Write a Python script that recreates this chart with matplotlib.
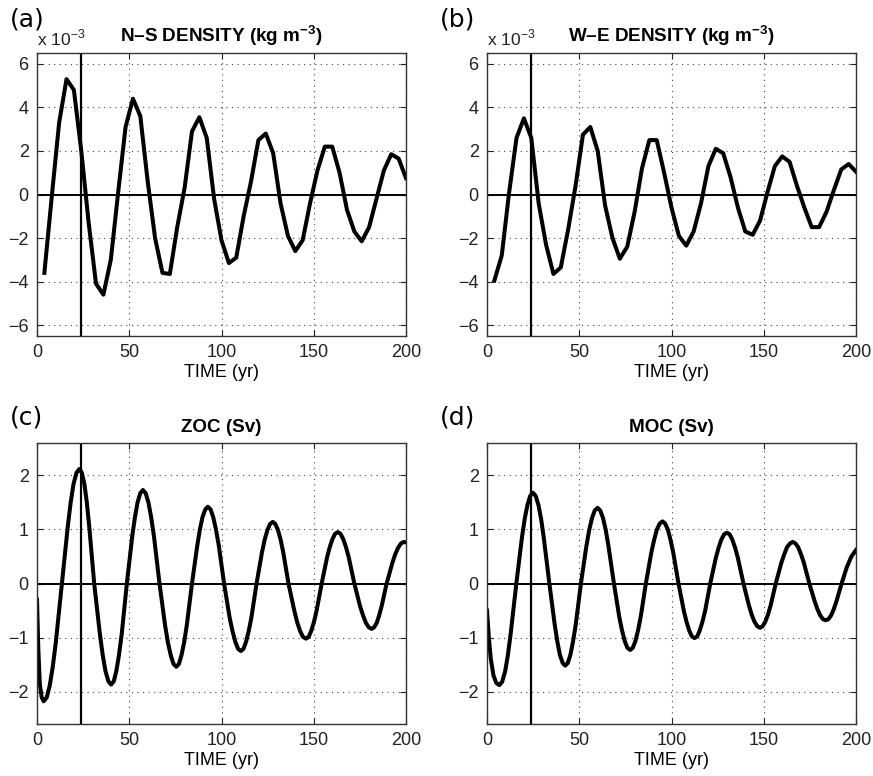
import numpy as np
import matplotlib
matplotlib.use("Agg")
import matplotlib.pyplot as plt

plt.rcParams["font.family"] = ["Liberation Sans", "DejaVu Sans"]
plt.rcParams["mathtext.fontset"] = "custom"
plt.rcParams["mathtext.rm"] = "Liberation Sans"
plt.rcParams["mathtext.bf"] = "Liberation Sans:bold"
plt.rcParams["axes.unicode_minus"] = True

# --- data (density every 4 yr, in units of 1e-3) ---
t_density = list(range(4, 201, 4))
ns_density = [-3.6, -0.1, 3.3, 5.3, 4.8, 2.0, -1.3, -4.1, -4.6, -3.0,
              0.1, 3.1, 4.4, 3.6, 0.6, -2.0, -3.6, -3.65, -1.5, 0.3,
              2.9, 3.55, 2.6, -0.2, -2.1, -3.15, -2.9, -1.0, 0.6, 2.5,
              2.8, 1.9, -0.4, -1.9, -2.6, -2.1, -0.4, 1.1, 2.2, 2.2,
              1.0, -0.7, -1.7, -2.15, -1.5, -0.2, 1.1, 1.85, 1.65, 0.75]
we_density = [-3.95, -2.8, 0.1, 2.6, 3.5, 2.6, -0.4, -2.3, -3.65, -3.35,
              -1.6, 0.4, 2.75, 3.1, 2.0, -0.5, -2.0, -2.95, -2.4, -0.8,
              1.2, 2.5, 2.5, 1.0, -0.6, -1.9, -2.35, -1.7, -0.4, 1.3,
              2.1, 1.9, 0.8, -0.6, -1.7, -1.85, -1.2, 0.1, 1.3, 1.75,
              1.5, 0.4, -0.6, -1.5, -1.5, -0.8, 0.2, 1.15, 1.4, 1.05]

# --- ZOC (Sv) ---
t_zoc = [0, 0.7, 1.5, 2.5, 3.6,
         5.25, 6.9, 8.55, 10.2, 13.5,
         16.7, 18.25, 19.8, 21.4, 23,
         24.3, 25.7, 27.0, 28.3, 31,
         34.1, 35.6, 37.1, 38.7, 40.2,
         41.6, 43.0, 44.45, 45.9, 48.7,
         51.6, 53.05, 54.5, 55.95, 57.4,
         58.9, 60.4, 61.9, 63.4, 66.4,
         69.4, 70.95, 72.5, 74.0, 75.5,
         76.9, 78.3, 79.75, 81.2, 84,
         86.9, 88.3, 89.7, 91.2, 92.6,
         94.1, 95.5, 97.0, 98.5, 101.4,
         104.4, 105.95, 107.5, 109.0, 110.5,
         111.9, 113.3, 114.75, 116.2, 119,
         121.9, 123.4, 124.9, 126.3, 127.8,
         129.2, 130.6, 132.05, 133.5, 136.3,
         139.5, 141.05, 142.6, 144.2, 145.8,
         147.2, 148.6, 150.05, 151.5, 154.3,
         157.2, 158.65, 160.1, 161.55, 163,
         164.5, 166, 167.5, 169, 172,
         175.1, 176.7, 178.3, 179.8, 181.4,
         182.75, 184.1, 185.45, 186.8, 189.5,
         192.6, 194.15, 195.7, 197.25, 198.8, 200]
zoc = [-0.3, -1.2, -1.85, -2.1, -2.18,
       -2.11, -1.89, -1.54, -1.09, 0,
       1.06, 1.50, 1.84, 2.05, 2.12,
       2.05, 1.84, 1.50, 1.06, 0,
       -0.94, -1.32, -1.62, -1.81, -1.87,
       -1.81, -1.62, -1.32, -0.94, 0,
       0.87, 1.22, 1.50, 1.67, 1.73,
       1.67, 1.50, 1.22, 0.87, 0,
       -0.77, -1.09, -1.33, -1.49, -1.54,
       -1.49, -1.33, -1.09, -0.77, 0,
       0.71, 1.0, 1.23, 1.37, 1.42,
       1.37, 1.23, 1.0, 0.71, 0,
       -0.63, -0.88, -1.08, -1.21, -1.25,
       -1.21, -1.08, -0.88, -0.63, 0,
       0.57, 0.81, 0.99, 1.10, 1.14,
       1.10, 0.99, 0.81, 0.57, 0,
       -0.51, -0.72, -0.88, -0.99, -1.02,
       -0.99, -0.88, -0.72, -0.51, 0,
       0.48, 0.67, 0.82, 0.92, 0.95,
       0.92, 0.82, 0.67, 0.48, 0,
       -0.42, -0.59, -0.73, -0.81, -0.84,
       -0.81, -0.73, -0.59, -0.42, 0,
       0.38, 0.54, 0.66, 0.74, 0.77, 0.76]

# --- MOC (Sv) ---
t_moc = [0, 1, 2, 3.5, 5, 6.7,
         8.2, 9.8, 11.3, 12.8, 15.9,
         18.9, 20.4, 21.9, 23.4, 24.9,
         26.4, 27.9, 29.35, 30.8, 33.8,
         36.7, 38.1, 39.5, 41.0, 42.4,
         43.8, 45.2, 46.65, 48.1, 50.9,
         53.9, 55.4, 56.9, 58.4, 59.9,
         61.4, 62.9, 64.35, 65.8, 68.8,
         71.7, 73.2, 74.7, 76.1, 77.6,
         79.0, 80.4, 81.85, 83.3, 86.1,
         89.1, 90.6, 92.1, 93.6, 95.1,
         96.55, 98.0, 99.45, 100.9, 103.8,
         106.7, 108.15, 109.6, 111.05, 112.5,
         113.9, 115.3, 116.75, 118.2, 121,
         124, 125.5, 127, 128.5, 130,
         131.5, 133, 134.5, 136, 139,
         142, 143.5, 145, 146.5, 148,
         149.4, 150.8, 152.25, 153.7, 156.5,
         159.6, 161.1, 162.6, 164.2, 165.7,
         167.2, 168.7, 170.2, 171.7, 174.7,
         177.7, 179.15, 180.6, 182.1, 183.6,
         185.05, 186.5, 187.9, 189.3, 192.2,
         195, 197.5, 200]
moc = [-0.5, -1.0, -1.38, -1.7, -1.84, -1.88,
       -1.82, -1.63, -1.33, -0.94, 0,
       0.84, 1.19, 1.45, 1.62, 1.68,
       1.62, 1.45, 1.19, 0.84, 0,
       -0.76, -1.07, -1.32, -1.47, -1.52,
       -1.47, -1.32, -1.07, -0.76, 0,
       0.70, 0.99, 1.21, 1.35, 1.40,
       1.35, 1.21, 0.99, 0.70, 0,
       -0.62, -0.87, -1.07, -1.19, -1.23,
       -1.19, -1.07, -0.87, -0.62, 0,
       0.58, 0.81, 1.0, 1.11, 1.15,
       1.11, 1.0, 0.81, 0.58, 0,
       -0.51, -0.71, -0.87, -0.98, -1.01,
       -0.98, -0.87, -0.71, -0.51, 0,
       0.47, 0.66, 0.81, 0.91, 0.94,
       0.91, 0.81, 0.66, 0.47, 0,
       -0.41, -0.58, -0.71, -0.79, -0.82,
       -0.79, -0.71, -0.58, -0.41, 0,
       0.39, 0.54, 0.67, 0.74, 0.77,
       0.74, 0.67, 0.54, 0.39, 0,
       -0.34, -0.48, -0.59, -0.66, -0.68,
       -0.66, -0.59, -0.48, -0.34, 0,
       0.3, 0.5, 0.62]

marker_year = 24

W, H = 873, 776
fig = plt.figure(figsize=(W / 100, H / 100), dpi=100)


def px_axes(left, top, right, bottom):
    return fig.add_axes([left / W, 1 - bottom / H, (right - left) / W, (bottom - top) / H])


def style_panel(ax, ylim, yticks, title):
    ax.set_xlim(0, 200)
    ax.set_ylim(*ylim)
    ax.set_xticks([0, 50, 100, 150, 200])
    ax.set_yticks(yticks)
    ax.grid(True, color="#444444", linestyle=(0, (1, 4)), linewidth=0.8)
    ax.tick_params(direction="in", length=4, width=0.8, labelsize=13,
                   top=True, right=True, pad=6, colors="#222222")
    for sp in ax.spines.values():
        sp.set_linewidth(1.0)
        sp.set_color("#333333")
    ax.axhline(0, color="k", linewidth=1.4)
    ax.axvline(marker_year, color="k", linewidth=1.6)
    ax.set_xlabel("TIME (yr)", fontsize=13, labelpad=2)
    ax.set_title(title, fontsize=13.6, fontweight="bold", pad=8)


panels = [
    ("(a)", (37, 53, 406, 336), t_density, ns_density, "top",
     r"N–S DENSITY (kg m$^{\mathbf{-3}}$)"),
    ("(b)", (487, 53, 856, 336), t_density, we_density, "top",
     r"W–E DENSITY (kg m$^{\mathbf{-3}}$)"),
    ("(c)", (37, 443, 406, 724), t_zoc, zoc, "bottom", "ZOC (Sv)"),
    ("(d)", (487, 443, 856, 724), t_moc, moc, "bottom", "MOC (Sv)"),
]

for letter, box, tx, vals, row, title in panels:
    ax = px_axes(*box)
    ax.plot(tx, vals, color="k", linewidth=2.9, solid_joinstyle="round")
    if row == "top":
        style_panel(ax, (-6.5, 6.5), [-6, -4, -2, 0, 2, 4, 6], title)
        ax.text(0, 1.018, r"x 10$^{-3}$", transform=ax.transAxes,
                fontsize=12.5, ha="left", va="bottom", color="#222222")
    else:
        style_panel(ax, (-2.6, 2.6), [-2, -1, 0, 1, 2], title)
    lx = box[0] - 27 if box[0] < 100 else box[0] - 47
    ly = box[1] - 33 if row == "top" else box[1] - 26
    fig.text(lx / W, 1 - ly / H, letter, fontsize=18, ha="left", va="center",
             family="DejaVu Sans")

fig.savefig("out.png", dpi=100)
